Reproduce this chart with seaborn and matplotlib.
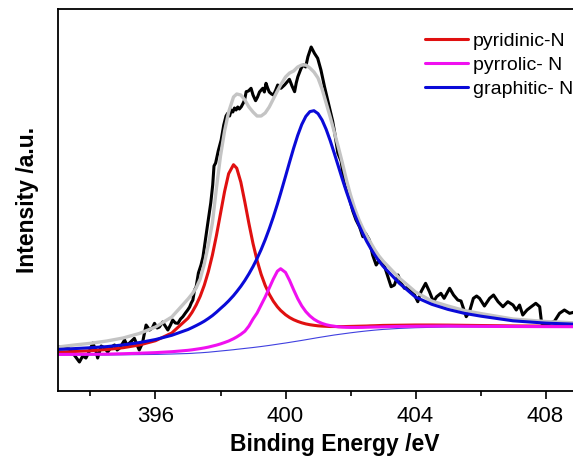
import seaborn as sns
import matplotlib.pyplot as plt

# N 1s fit (intensity in a.u.)
energy = [393, 393.5, 394, 394.5, 395, 395.5, 396, 396.5, 397,
          397.125, 397.25, 397.375, 397.5, 397.625, 397.75, 397.875, 398, 398.125, 398.25,
          398.4,
          398.5, 398.625, 398.75, 398.875, 399, 399.125, 399.25, 399.375, 399.5, 399.625, 399.75,
          399.85,
          400, 400.125, 400.25, 400.375, 400.5, 400.625, 400.75, 400.875,
          401, 401.125, 401.25, 401.375, 401.5, 401.625, 401.75, 401.875,
          402, 402.125, 402.25, 402.375, 402.5, 402.625, 402.75, 402.875,
          403, 403.5, 404, 404.5, 405, 405.5, 406, 407, 408, 409]

background = [36, 36, 36, 36, 36.2, 36.4, 36.6, 37, 37.5,
              37.7, 38, 38.2, 38.5, 38.8, 39.2, 39.6, 40, 40.4, 40.8,
              41.3,
              41.7, 42.15, 42.6, 43.05, 43.5, 44.0, 44.5, 45.05, 45.6, 46.2, 46.8,
              47.3,
              48, 48.65, 49.3, 49.95, 50.6, 51.3, 52, 52.7,
              53.4, 54.05, 54.7, 55.35, 56, 56.55, 57.1, 57.65,
              58.2, 58.7, 59.2, 59.65, 60.1, 60.5, 60.9, 61.25,
              61.6, 62.6, 63.3, 63.7, 64, 64, 64, 64, 64, 64]

pyridinic = [38.9, 39.5, 40.3, 41.5, 43.3, 46.0, 50.3, 58.0, 72.8,
             78.7, 85.9, 94.7, 105.7, 119.3, 135.8, 155.5, 177.5, 199.4, 217.3,
             226.3,
             222.8, 208.9, 188.8, 167.4, 147.5, 130.6, 116.7, 105.6, 96.8, 89.8, 84.2,
             80.6,
             76.3, 73.5, 71.3, 69.6, 68.2, 67.1, 66.3, 65.7,
             65.2, 64.9, 64.7, 64.5, 64.5, 64.4, 64.4, 64.5,
             64.6, 64.7, 64.8, 64.9, 65.0, 65.2, 65.3, 65.45,
             65.6, 65.8, 66.0, 66.0, 65.9, 65.7, 65.5, 65.1, 64.9, 64.8]

pyrrolic = [36.6, 36.7, 36.8, 36.9, 37.3, 37.8, 38.4, 39.3, 40.7,
            41.2, 41.8, 42.4, 43.1, 43.9, 44.9, 45.9, 47.1, 48.5, 50.0,
            52.3,
            54.1, 56.7, 59.8, 65.0, 72.0, 78.0, 86.0, 94.0, 103.0, 112.0, 119.8,
            122.3,
            118.6, 110.6, 101.2, 92.4, 85.1, 79.4, 75.1, 71.8,
            69.4, 67.6, 66.3, 65.4, 64.8, 64.2, 63.9, 63.7,
            63.6, 63.6, 63.6, 63.65, 63.8, 63.9, 64.0, 64.05,
            64.2, 64.6, 64.8, 64.9, 65.0, 64.8, 64.7, 64.5, 64.4, 64.3]

graphitic = [41.6, 42.4, 43.3, 44.4, 46.1, 48.4, 51.5, 55.7, 61.5,
             63.4, 65.4, 67.5, 69.8, 72.5, 75.4, 78.8, 82.5, 86.1, 90.1,
             95.4,
             99.4, 104.7, 110.6, 117.2, 124.4, 132.5, 141.4, 151.3, 162.2, 174.0, 186.8,
             197.7,
             214.6, 228.9, 242.8, 255.6, 266.5, 274.6, 279.4, 280.3,
             277.4, 271.0, 261.7, 250.4, 237.8, 224.8, 211.7, 199.2,
             187.5, 176.6, 166.6, 157.6, 149.5, 142.3, 135.8, 129.95,
             124.8, 107.8, 93.9, 86.7, 81.6, 77.7, 74.9, 70.2, 67.9, 66.7]

envelope = [44, 46, 47.7, 50, 53, 57.5, 64, 74, 92,
            97, 103, 112, 127, 146, 168, 203, 235, 260, 279,
            294,
            297, 296, 291, 284, 279, 275, 275, 278, 284, 292, 300,
            306,
            314, 318, 320, 324, 326, 326, 323, 319,
            313, 302, 288, 274, 259, 244, 228, 211,
            196, 183, 172, 163, 155, 148, 141, 135,
            130, 113, 99, 90, 85, 80.5, 77.5, 72, 69.5, 68]

raw_energy = [392.95, 393.05, 393.2, 393.35, 393.5, 393.66, 393.76, 393.86, 393.97, 394.07,
              394.15, 394.22, 394.33, 394.43, 394.53, 394.64, 394.74, 394.82, 394.9, 395.05,
              395.12, 395.2, 395.35, 395.42, 395.5, 395.6, 395.71, 395.82, 395.9, 395.97,
              396.05, 396.12, 396.22, 396.3, 396.38, 396.46, 396.53, 396.61, 396.69, 396.77,
              396.84, 396.92, 396.99, 397.05, 397.1, 397.15, 397.2, 397.25, 397.32, 397.4,
              397.46, 397.53, 397.61, 397.7, 397.76, 397.8, 397.85, 397.93, 398.02, 398.1,
              398.17, 398.22, 398.28, 398.33, 398.38, 398.43, 398.48, 398.53, 398.58, 398.64,
              398.7, 398.74, 398.79, 398.86, 398.94, 399.0, 399.08, 399.14, 399.2, 399.3,
              399.35, 399.4, 399.45, 399.5, 399.57, 399.63, 399.7, 399.76, 399.86, 399.97,
              400.05, 400.12, 400.2, 400.28, 400.33, 400.38, 400.48, 400.55, 400.62, 400.69,
              400.79, 400.89, 400.99, 401.09, 401.2, 401.35, 401.45, 401.51, 401.61, 401.71,
              401.82, 401.92, 401.97, 402.07, 402.17, 402.28, 402.38, 402.46, 402.58, 402.68,
              402.79, 402.89, 402.97, 403.05, 403.15, 403.25, 403.35, 403.46, 403.56, 403.66,
              403.76, 403.92, 404.07, 404.17, 404.31, 404.43, 404.55, 404.65, 404.78, 404.88,
              405.05, 405.17, 405.3, 405.4, 405.56, 405.66, 405.78, 405.88, 405.97, 406.12,
              406.28, 406.4, 406.54, 406.69, 406.84, 407.0, 407.1, 407.2, 407.3, 407.43,
              407.56, 407.7, 407.82, 407.88, 408.02, 408.12, 408.28, 408.43, 408.58, 408.74,
              408.9]

raw_counts = [45, 44, 43, 42, 36, 29, 35, 33, 40, 48,
              42, 33, 45, 43, 39, 44, 46, 41, 43, 51,
              46, 48, 52.7, 47, 41, 48, 66, 61, 63, 67.7,
              63, 64, 69, 65, 61, 66, 71, 68, 67.7, 72,
              74.3, 78, 81, 84, 88, 91, 101, 104, 118, 126,
              134, 150, 168, 188, 206, 225, 228, 240, 251, 266,
              275, 277.7, 275, 281, 279, 283, 281, 284, 282, 284.3,
              288, 291, 299.3, 300, 302.7, 296, 290.3, 294, 299, 302.7,
              299, 307.7, 303, 299, 297, 296, 301, 306, 302.7, 306,
              309, 311.7, 305, 299.3, 308, 314.3, 322.7, 326, 324, 334.3,
              344, 337.7, 332.7, 321, 304.3, 284, 270, 259, 238, 230,
              206, 198, 192, 180, 171, 164, 154.3, 157.7, 151, 136,
              126, 131, 129, 124.3, 114.3, 104.3, 106, 116, 107.7, 102.7,
              103.7, 99.3, 89.3, 99.3, 107.7, 99.3, 89.3, 94.3, 97.7, 92.7,
              102.7, 96, 91, 90, 74.3, 79.3, 92.7, 95, 92.7, 85,
              92.7, 96, 89.3, 84.3, 89.3, 86, 81, 86, 76, 81,
              84.3, 87.7, 84.3, 67.7, 66, 67.7, 70, 77.7, 81, 77.7,
              79]

sns.set_theme(style="ticks")
plt.rcParams['font.family'] = ['Liberation Sans', 'DejaVu Sans']
plt.rcParams['text.color'] = 'black'
plt.rcParams['axes.labelcolor'] = 'black'

fig = plt.figure(figsize=(5.73, 4.61), dpi=100)
# the original is cropped on the right, so the axes run past the figure edge
ax = fig.add_axes([0.1012, 0.1518, 0.9643, 0.8287])

sns.lineplot(x=raw_energy, y=raw_counts, color="black", lw=2.2, estimator=None, ax=ax)
sns.lineplot(x=energy, y=envelope, color="#c4c4c4", lw=2.4, estimator=None, ax=ax)
sns.lineplot(x=energy, y=background, color="#4040e0", lw=0.8, estimator=None, ax=ax)
sns.lineplot(x=energy, y=pyridinic, color="#e01010", lw=2.2, estimator=None, ax=ax, label="pyridinic-N")
sns.lineplot(x=energy, y=graphitic, color="#0a0ad8", lw=2.2, estimator=None, ax=ax, label="graphitic- N")
sns.lineplot(x=energy, y=pyrrolic, color="#f010f0", lw=2.2, estimator=None, ax=ax, label="pyrrolic- N")

ax.set_xlim(393, 410)
ax.set_ylim(0, 382)
ax.set_xticks([396, 400, 404, 408])
ax.set_xticklabels(["396", "400", "404", "408"])
ax.set_xticks([394, 398, 402, 406, 410], minor=True)
ax.set_yticks([])
ax.tick_params(axis="x", which="major", direction="out", length=6, width=1.2,
               labelsize=16, colors="black", pad=5)
ax.tick_params(axis="x", which="minor", direction="out", length=3.5, width=1.2, colors="black")
for s in ax.spines.values():
    s.set_color("black")
    s.set_linewidth(1.3)

ax.set_xlabel("Binding Energy /eV", fontsize=16.5, fontweight="bold", labelpad=4)
ax.set_ylabel("Intensity /a.u.", fontsize=16.5, fontweight="bold", labelpad=14)

h, l = ax.get_legend_handles_labels()
order = [l.index("pyridinic-N"), l.index("pyrrolic- N"), l.index("graphitic- N")]
ax.legend([h[i] for i in order], [l[i] for i in order],
          loc="upper left", bbox_to_anchor=(0.742, 0.93), bbox_transform=fig.transFigure,
          frameon=False, fontsize=14, handlelength=2.2, handletextpad=0.25,
          labelspacing=0.32, borderpad=0, borderaxespad=0)

fig.savefig("out.png", dpi=100)
